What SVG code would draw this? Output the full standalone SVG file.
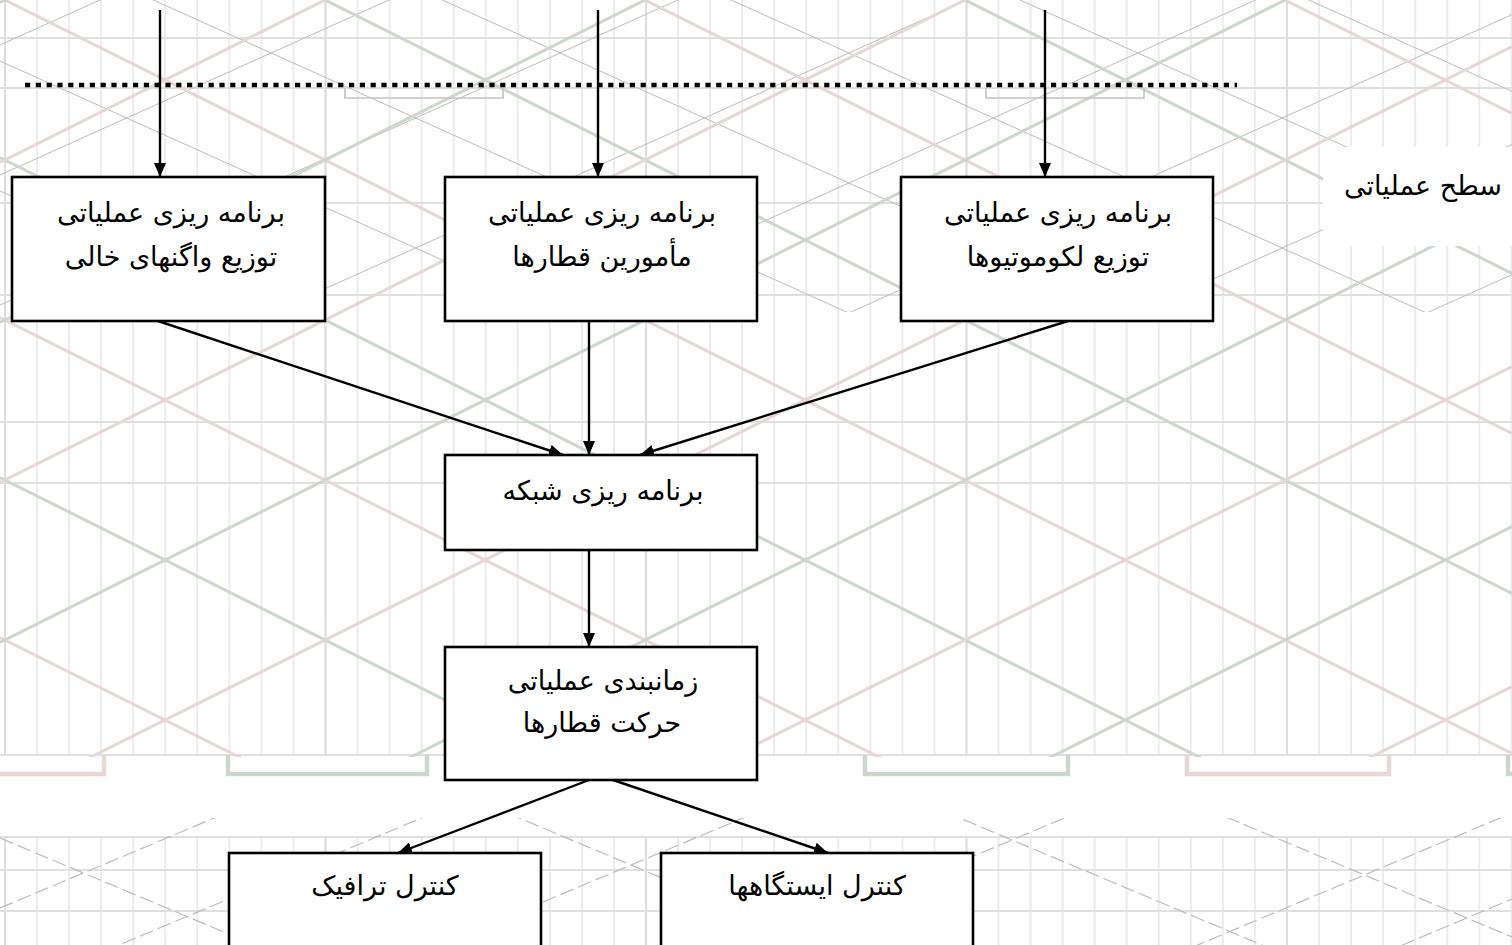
<svg xmlns="http://www.w3.org/2000/svg" width="1512" height="945" viewBox="0 0 1512 945">
<style>
.box{fill:#ffffff;stroke:#000000;stroke-width:2.6}
.t{font-family:"DejaVu Sans","Noto Sans",sans-serif;font-size:27px;fill:#000000;text-anchor:middle}
.c{fill:none;stroke:#000000;stroke-width:2.4}
.dot{fill:none;stroke:#000000;stroke-width:4.5;stroke-dasharray:5.2 5.6}
.pk{fill:none;stroke:#e9d6d6;stroke-width:3}
.gr{fill:none;stroke:#cdd8cd;stroke-width:3}
.bpk{fill:none;stroke:#e9d6d6;stroke-width:4.5}
.bgr{fill:none;stroke:#cdd8cd;stroke-width:4.5}
.gy{fill:none;stroke:#bcbcbc;stroke-width:1}
.gyd{fill:none;stroke:#bcbcbc;stroke-width:1.2;stroke-dasharray:14 5}
.hl{fill:none;stroke:#e0e0e0;stroke-width:2}
.tb{fill:none;stroke:#c4c4c4;stroke-width:1.6}
</style>
<defs>
<marker id="ah" markerUnits="userSpaceOnUse" markerWidth="14" markerHeight="12" refX="14" refY="6" orient="auto">
<path d="M0,0 L14,6 L0,12 Z" fill="#000000"/>
</marker>
<pattern id="vg" patternUnits="userSpaceOnUse" x="4" y="0" width="32.05" height="945">
<rect x="0" y="0" width="2" height="945" fill="#ececec"/>
</pattern>
<pattern id="vg2" patternUnits="userSpaceOnUse" x="4" y="0" width="320.5" height="945">
<rect x="0" y="0" width="2" height="945" fill="#dddddd"/>
</pattern>
<clipPath id="cTop"><rect x="0" y="0" width="1512" height="757"/></clipPath>
<clipPath id="cGy"><rect x="0" y="0" width="1512" height="312"/></clipPath>
<clipPath id="cBot"><rect x="0" y="818" width="1512" height="127"/></clipPath>
</defs>
<rect x="0" y="0" width="1512" height="945" fill="#ffffff"/>
<g id="background">
<rect x="0" y="0" width="1512" height="755" fill="url(#vg)"/>
<rect x="0" y="0" width="1512" height="755" fill="url(#vg2)"/>
<rect x="0" y="837" width="1512" height="108" fill="url(#vg)"/>
<rect x="0" y="837" width="1512" height="108" fill="url(#vg2)"/>
<path class="hl" d="M0,38H1512M0,88H1512M0,203H1512M0,295H1512M0,422H1512M0,483H1512M0,755H1512M0,837H1512M0,870H1512M0,911H1512"/>
<g clip-path="url(#cGy)">
<path class="gy" d="M0,-719L1512,-38.6M0,-589L1512,91.4M0,-459L1512,221.4M0,-329L1512,351.4M0,-199L1512,481.4M0,-69L1512,611.4M0,61L1512,741.4M0,191L1512,871.4"/>
<path class="gy" d="M0,45L1512,-635.4M0,175L1512,-505.4M0,305L1512,-375.4M0,435L1512,-245.4M0,565L1512,-115.4M0,695L1512,14.6M0,825L1512,144.6M0,955L1512,274.6M0,1085L1512,404.6M0,1215L1512,534.6M0,1345L1512,664.6"/>
</g>
<g clip-path="url(#cTop)">
<path class="pk" d="M0,637.5L1512,1393.5M0,317.5L1512,1073.5M0,-2.5L1512,753.5M0,-322.5L1512,433.5M0,-642.5L1512,113.5"/>
<path class="gr" d="M0,477.5L1512,1233.5M0,157.5L1512,913.5M0,-162.5L1512,593.5M0,-482.5L1512,273.5"/>
<path class="gr" d="M0,2.5L1512,-753.5M0,322.5L1512,-433.5M0,642.5L1512,-113.5M0,962.5L1512,206.5M0,1282.5L1512,526.5"/>
<path class="pk" d="M0,162.5L1512,-593.5M0,482.5L1512,-273.5M0,802.5L1512,46.5M0,1122.5L1512,366.5M0,1442.5L1512,686.5"/>
</g>
<path class="bpk" d="M0,774H104V755M1187,755V774H1389V755"/>
<path class="bgr" d="M228,755V774H427V755M865,755V774H1068V755M1508,755V774H1512"/>
<path class="tb" d="M345,88V98H503V88M986,88V98H1144V88"/>
<g clip-path="url(#cBot)">
<path class="gyd" d="M0,838L1512,1473M0,600L1512,1235M0,415L1512,1050M0,302L1512,937M0,-60L1512,575"/>
<path class="gyd" d="M0,908L1512,273M0,995L1512,360M0,1130L1512,495M0,1265L1512,630M0,1448L1512,813M0,1534L1512,899"/>
</g>
<rect x="1323" y="147" width="189" height="99" fill="#ffffff"/>
</g>
<g id="connectors">
<path class="dot" d="M25,85H1237"/>
<path class="c" d="M160,10V177" marker-end="url(#ah)"/>
<path class="c" d="M598,10V177" marker-end="url(#ah)"/>
<path class="c" d="M1045,10V177" marker-end="url(#ah)"/>
<path class="c" d="M158,321L563,455" marker-end="url(#ah)"/>
<path class="c" d="M589,321V455" marker-end="url(#ah)"/>
<path class="c" d="M1068,321L640,455" marker-end="url(#ah)"/>
<path class="c" d="M589,550V647" marker-end="url(#ah)"/>
<path class="c" d="M589,780L398,853" marker-end="url(#ah)"/>
<path class="c" d="M613,780L828,853" marker-end="url(#ah)"/>
</g>
<g id="node-wagons">
<rect class="box" x="12" y="177" width="313" height="144"/>
<text class="t" x="171" y="222">برنامه ریزی عملیاتی</text>
<text class="t" x="171" y="266">توزیع واگنهای خالی</text>
</g>
<g id="node-crews">
<rect class="box" x="445" y="177" width="312" height="144"/>
<text class="t" x="602" y="222">برنامه ریزی عملیاتی</text>
<text class="t" x="602" y="266">مأمورین قطارها</text>
</g>
<g id="node-locos">
<rect class="box" x="901" y="177" width="312" height="144"/>
<text class="t" x="1058" y="222">برنامه ریزی عملیاتی</text>
<text class="t" x="1058" y="266">توزیع لکوموتیوها</text>
</g>
<g id="node-network">
<rect class="box" x="445" y="455" width="312" height="95"/>
<text class="t" x="603" y="500">برنامه ریزی شبکه</text>
</g>
<g id="node-schedule">
<rect class="box" x="445" y="647" width="312" height="133"/>
<text class="t" x="603" y="690">زمانبندی عملیاتی</text>
<text class="t" x="602" y="732">حرکت قطارها</text>
</g>
<g id="node-traffic">
<rect class="box" x="229" y="853" width="312" height="110"/>
<text class="t" x="385" y="895">کنترل ترافیک</text>
</g>
<g id="node-stations">
<rect class="box" x="661" y="853" width="312" height="110"/>
<text class="t" x="817" y="895">کنترل ایستگاهها</text>
</g>
<g id="label-level">
<text class="t" x="1423" y="195">سطح عملیاتی</text>
</g>
</svg>
